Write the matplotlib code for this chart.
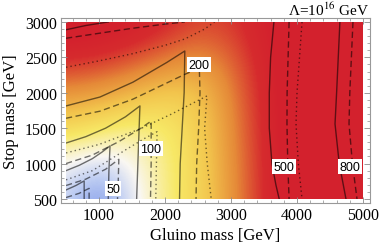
import matplotlib
matplotlib.use('Agg')
import matplotlib.pyplot as plt
import numpy as np
from matplotlib.colors import LinearSegmentedColormap
from matplotlib.patches import Rectangle
from matplotlib.ticker import MultipleLocator

plt.rcParams['font.family'] = ['Liberation Serif', 'DejaVu Serif']
plt.rcParams['mathtext.fontset'] = 'stix'

# background grid: fine tuning
gluino = [500, 1000, 1500, 2000, 2500, 3000, 3500, 4000, 4500, 5000]
stop = [500, 1000, 1500, 2000, 2500, 3000]
tuning = [
    [38, 22, 42, 80, 115, 230, 410, 600, 700, 800],
    [48, 38, 50, 80, 118, 235, 415, 600, 700, 800],
    [115, 95, 75, 85, 125, 245, 420, 600, 700, 800],
    [240, 220, 180, 140, 145, 260, 430, 600, 700, 800],
    [420, 400, 350, 290, 240, 300, 450, 600, 700, 800],
    [600, 570, 510, 430, 360, 370, 480, 600, 700, 800],
]

# contour lines (gluino, stop)
solid_20 = [(500, 627), (650, 690), (775, 755), (775, 500)]
dashed_20 = [(500, 520), (700, 580), (850, 650), (850, 500)]
solid_50 = [(500, 900), (700, 975), (900, 1070), (1050, 1165), (1167, 1250),
            (1150, 900), (1140, 500)]
dashed_50 = [(500, 690), (800, 780), (1100, 920), (1300, 1060), (1290, 700), (1280, 500)]
solid_100 = [(500, 1290), (800, 1380), (1100, 1500), (1400, 1660), (1620, 1814),
             (1600, 1300), (1570, 500)]
dashed_100 = [(500, 1000), (900, 1120), (1300, 1310), (1620, 1490), (1790, 1600),
              (1790, 1000), (1780, 500)]
dotted_100 = [(500, 770), (900, 900), (1424, 1206), (1700, 1360), (1880, 1450),
              (1870, 1000), (1860, 500)]
solid_200 = [(500, 1814), (1015, 1940), (1515, 2150), (2030, 2430), (2300, 2590),
             (2290, 2000), (2260, 1500), (2230, 1000), (2220, 500)]
dashed_200 = [(500, 1640), (1015, 1740), (1515, 1910), (2030, 2140), (2300, 2260),
              (2520, 2350), (2530, 2000), (2510, 1500), (2480, 1000), (2470, 500)]
dotted_200 = [(500, 1150), (1000, 1270), (1621, 1489), (2100, 1700), (2636, 1955),
              (2600, 1500), (2640, 1000), (2700, 500)]
solid_500a = [(500, 2890), (800, 2950), (1140, 3000)]
solid_500b = [(3650, 3000), (3600, 2500), (3580, 2000), (3580, 1500), (3620, 1000),
              (3680, 700), (3730, 500)]
dashed_500a = [(500, 2770), (1000, 2840), (1500, 2910), (2000, 2970), (2300, 3000)]
dashed_500b = [(3880, 3000), (3850, 2000), (3848, 1560), (3860, 1000), (3880, 500)]
dotted_500a = [(500, 2360), (1000, 2450), (1500, 2550), (2000, 2670), (2300, 2760),
               (2600, 2900), (2750, 3000)]
dotted_500b = [(4076, 3000), (4000, 2000), (3985, 1560), (4020, 1000), (4076, 500)]
solid_800 = [(4650, 3000), (4600, 2000), (4576, 1560), (4640, 1000), (4742, 500)]
dashed_800 = [(4848, 3000), (4800, 2000), (4788, 1560), (4840, 1000), (4909, 500)]

labels = ['50', '100', '200', '500', '800']
label_pos = [(1212, 641), (1788, 1206), (2515, 2393), (3800, 952), (4800, 952)]

cmap = LinearSegmentedColormap.from_list('ft', [
    (0.00, (0.38, 0.50, 0.90)),
    (0.17, (0.74, 0.80, 0.95)),
    (0.29, (0.98, 0.97, 0.95)),
    (0.47, (0.97, 0.91, 0.40)),
    (0.63, (0.95, 0.77, 0.30)),
    (0.79, (0.90, 0.54, 0.22)),
    (0.93, (0.84, 0.17, 0.18)),
    (1.00, (0.83, 0.13, 0.18)),
])

fig = plt.figure(figsize=(3.82, 2.51), dpi=100)
ax = fig.add_axes([61 / 382, 47 / 251, 309 / 382, 185 / 251])

clip = Rectangle((500, 500), 4500, 2500, transform=ax.transData)
im = ax.imshow(np.log10(tuning), origin='lower', extent=[250, 5250, 250, 3250],
               aspect='auto', cmap=cmap, vmin=np.log10(20), vmax=np.log10(500),
               interpolation='bicubic')
im.set_clip_path(clip)

styles = {'solid': dict(ls='-'), 'dashed': dict(dashes=(4.5, 2.5)), 'dotted': dict(dashes=(1, 2.2))}
lines = [
    (solid_20, 'solid'), (dashed_20, 'dashed'),
    (solid_50, 'solid'), (dashed_50, 'dashed'),
    (solid_100, 'solid'), (dashed_100, 'dashed'), (dotted_100, 'dotted'),
    (solid_200, 'solid'), (dashed_200, 'dashed'), (dotted_200, 'dotted'),
    (solid_500a, 'solid'), (solid_500b, 'solid'),
    (dashed_500a, 'dashed'), (dashed_500b, 'dashed'),
    (dotted_500a, 'dotted'), (dotted_500b, 'dotted'),
    (solid_800, 'solid'), (dashed_800, 'dashed'),
]
for pts, st in lines:
    g, s = zip(*pts)
    ln, = ax.plot(g, s, color='black', alpha=0.55, lw=1.0, **styles[st])
    ln.set_clip_path(clip)

for lab, (g, s) in zip(labels, label_pos):
    ax.text(g, s, lab, fontsize=9, family='Liberation Sans', ha='center', va='center',
            bbox=dict(boxstyle='square,pad=0.12', fc='white', ec='none'))

ax.set_xlim(424, 5106)
ax.set_ylim(443, 3056)
ax.xaxis.set_major_locator(MultipleLocator(1000))
ax.xaxis.set_minor_locator(MultipleLocator(200))
ax.yaxis.set_major_locator(MultipleLocator(500))
ax.yaxis.set_minor_locator(MultipleLocator(100))
ax.tick_params(which='both', direction='in', top=True, right=True, color='0.55',
               labelsize=11.5, pad=3)
ax.tick_params(which='major', length=4, width=0.6)
ax.tick_params(which='minor', length=2, width=0.5)
for sp in ax.spines.values():
    sp.set_color('0.6')
    sp.set_linewidth(0.8)

ax.set_xlabel('Gluino mass [GeV]', fontsize=12, labelpad=3)
ax.set_ylabel('Stop mass [GeV]', fontsize=12, labelpad=4)
fig.text(369 / 382, 1 - 10 / 251, 'Λ=10$^{16}$ GeV', ha='right', va='center', fontsize=11)

fig.savefig('out.png', dpi=100)
